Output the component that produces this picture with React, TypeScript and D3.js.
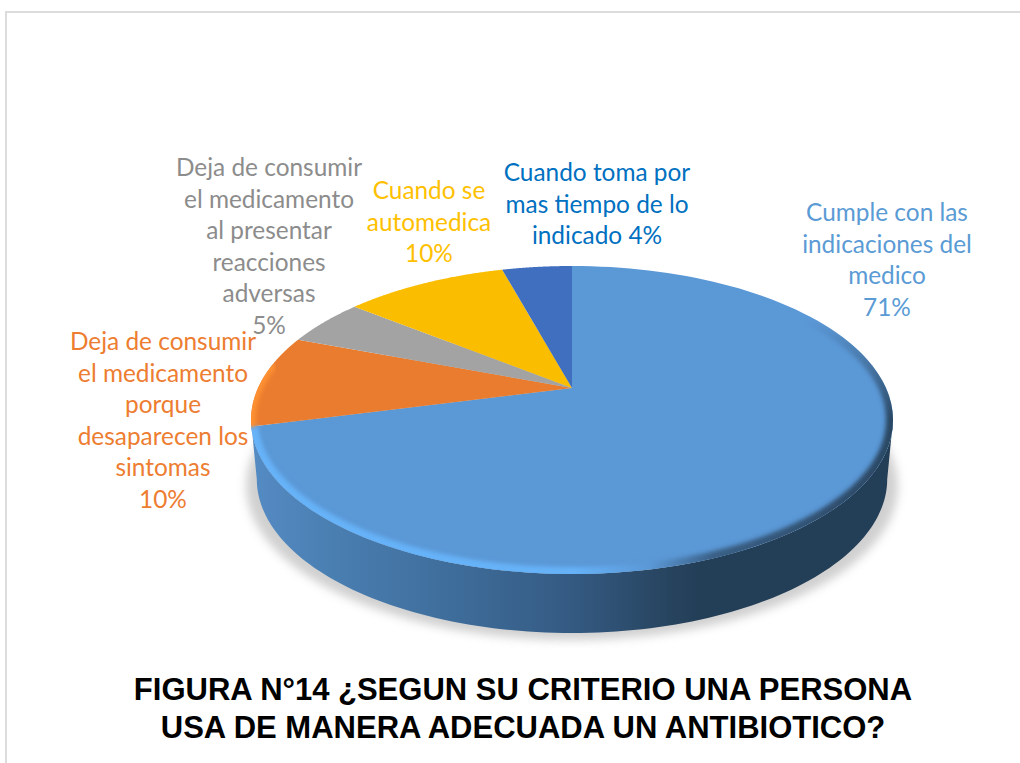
import React from 'react';
import * as d3 from 'd3';

const categories = [
  'Cumple con las indicaciones del medico',
  'Deja de consumir el medicamento porque desaparecen los sintomas',
  'Deja de consumir el medicamento al presentar reacciones adversas',
  'Cuando se automedica',
  'Cuando toma por mas tiempo de lo indicado',
];
// the printed labels round these
const values = [71, 9.7, 5, 10, 4.3];
const sliceColors = ['#5b98d6', '#ea7c2f', '#a3a3a3', '#fbbd00', '#406fc0'];
const labelColors = ['#5b9bd5', '#ed7d31', '#8c8c8c', '#ffc000', '#0070c0'];
const labelLines = [
  ['Cumple con las', 'indicaciones del', 'medico', '71%'],
  ['Deja de consumir', 'el medicamento', 'porque', 'desaparecen los', 'sintomas', '10%'],
  ['Deja de consumir', 'el medicamento', 'al presentar', 'reacciones', 'adversas', '5%'],
  ['Cuando se', 'automedica', '10%'],
  ['Cuando toma por', 'mas tiempo de lo', 'indicado 4%'],
];
const labelX = [887, 163, 269, 429, 597];
const labelY = [221, 350, 176, 199, 181];
const titleLines = [
  'FIGURA N°14 ¿SEGUN SU CRITERIO UNA PERSONA',
  'USA DE MANERA ADECUADA UN ANTIBIOTICO?',
];

const width = 1020;
const height = 763;
const cx = 572;
const cy = 388;
const tilt = 0.2078; // perspective of the disc
const rx = 314;
const ry = 147.35;
const depth = 59;

// circle angle -> screen point, with the apex sitting above the ellipse middle
const project = (a: number, scale = 1, dy = 0): [number, number] => {
  const d = 1 + tilt * Math.cos(a);
  return [
    cx + (scale * rx * Math.sin(a)) / d,
    cy + dy - (ry * Math.cos(a)) / d,
  ];
};

const line = d3.line();
const rim = (a0: number, a1: number, scale = 1, dy = 0) =>
  d3.range(0, 121).map((i) => project(a0 + ((a1 - a0) * i) / 120, scale, dy));

const slices = d3.pie<number>().sort(null)(values);
const frontA = Math.acos(-tilt);
const backA = 2 * Math.PI - frontA;

const wallPath =
  line([...rim(frontA, backA), ...rim(backA, frontA, 0.982, depth)]) + 'Z';
const shadowPath = line(rim(0, 2 * Math.PI, 1.015, depth + 7)) + 'Z';
const facePath = line(rim(0, 2 * Math.PI)) + 'Z';

export default function App() {
  const blueEnd = slices[0].endAngle;
  const orange = slices[1];
  return (
    <svg
      width={width}
      height={height}
      style={{ position: 'absolute', left: 0, top: 0, background: '#fff' }}
    >
      <defs>
        <linearGradient id="wall" gradientUnits="userSpaceOnUse" x1={253} x2={893} y1={0} y2={0}>
          <stop offset="0" stopColor="#548bc3" />
          <stop offset="0.12" stopColor="#4a7fb2" />
          <stop offset="0.3" stopColor="#3f6e9c" />
          <stop offset="0.5" stopColor="#345a82" />
          <stop offset="0.65" stopColor="#27445f" />
          <stop offset="0.7" stopColor="#233e57" />
          <stop offset="1" stopColor="#233e57" />
        </linearGradient>
        <linearGradient id="bevel" gradientUnits="userSpaceOnUse" x1={253} x2={893} y1={0} y2={0}>
          <stop offset="0" stopColor="#66b2f8" />
          <stop offset="0.5" stopColor="#66b2f8" />
          <stop offset="0.62" stopColor="#5b98d6" />
          <stop offset="0.72" stopColor="#3a5f85" />
          <stop offset="1" stopColor="#2b4763" />
        </linearGradient>
        <linearGradient id="fade" gradientUnits="userSpaceOnUse" x1={0} x2={0} y1={320} y2={420}>
          <stop offset="0" stopColor="#000" />
          <stop offset="1" stopColor="#fff" />
        </linearGradient>
        <mask id="bevelFade" maskUnits="userSpaceOnUse" x={0} y={0} width={width} height={height}>
          <rect width={width} height={height} fill="url(#fade)" />
        </mask>
        <filter id="blur6" x="-10%" y="-10%" width="120%" height="120%">
          <feGaussianBlur stdDeviation="5" />
        </filter>
        <filter id="blur2" x="-10%" y="-10%" width="120%" height="120%">
          <feGaussianBlur stdDeviation="2.2" />
        </filter>
        <clipPath id="face">
          <path d={facePath} />
        </clipPath>
      </defs>

      <path d="M6 763V12H1020" fill="none" stroke="#dcdcdc" strokeWidth={2} />

      <path d={shadowPath} fill="#c4c4c4" opacity={0.8} filter="url(#blur6)" />
      <path d={wallPath} fill="url(#wall)" />

      {slices.map((s, i) => (
        <path
          key={categories[i]}
          d={line([[cx, cy], ...rim(s.startAngle, s.endAngle)]) + 'Z'}
          fill={sliceColors[i]}
        />
      ))}

      <g clipPath="url(#face)">
        <g mask="url(#bevelFade)">
          <path
            d={line(rim(1.0, blueEnd)) ?? ''}
            fill="none"
            stroke="url(#bevel)"
            strokeWidth={14}
            filter="url(#blur2)"
          />
        </g>
        <path
          d={line(rim(orange.startAngle, orange.startAngle + 0.42)) ?? ''}
          fill="none"
          stroke="#ff9233"
          strokeWidth={9}
          filter="url(#blur2)"
        />
      </g>

      {labelLines.map((lines, i) => (
        <text
          key={categories[i]}
          x={labelX[i]}
          y={labelY[i]}
          textAnchor="middle"
          fontFamily="Lato, 'Open Sans', sans-serif"
          fontWeight={400}
          fontSize={24.4}
          fill={labelColors[i]}
        >
          {lines.map((t, j) => (
            <tspan key={j} x={labelX[i]} y={labelY[i] + j * 31.5}>
              {t}
            </tspan>
          ))}
        </text>
      ))}

      {titleLines.map((t, i) => (
        <text
          key={t}
          x={523}
          y={700 + i * 38}
          textAnchor="middle"
          fontFamily="'Liberation Sans', Arial, sans-serif"
          fontWeight={700}
          fontSize={31}
          fill="#000"
        >
          {t}
        </text>
      ))}
    </svg>
  );
}
